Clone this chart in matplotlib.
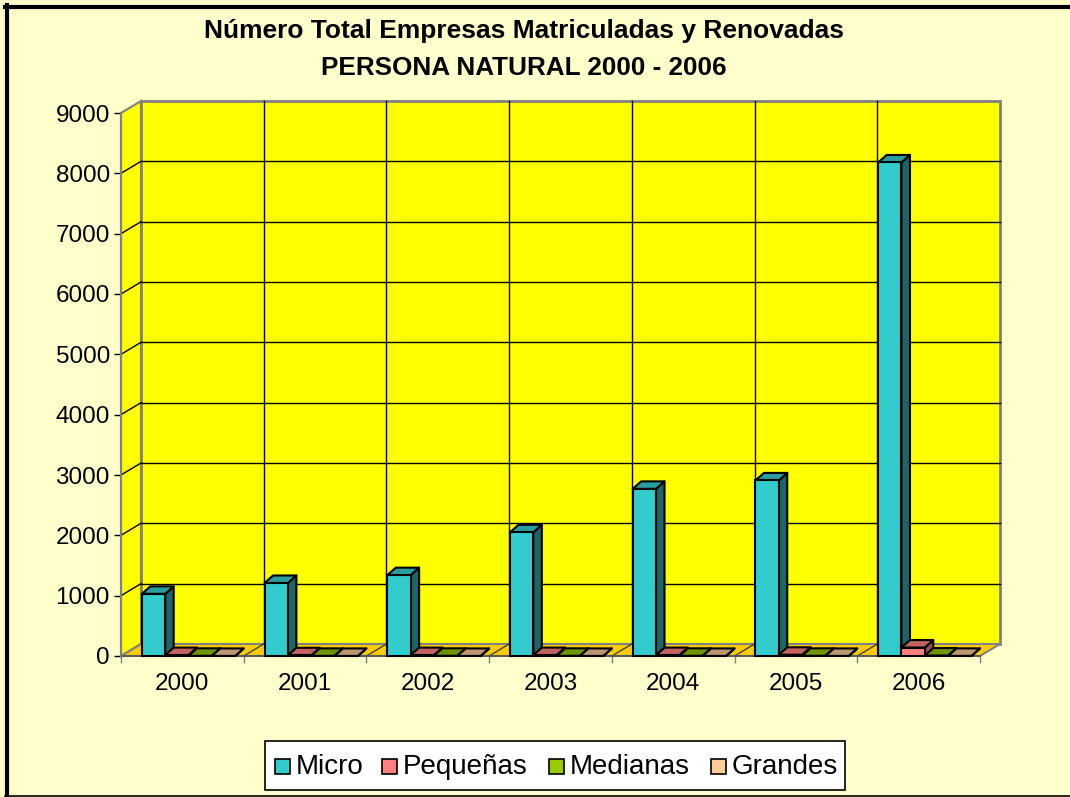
import matplotlib
matplotlib.use('Agg')
import matplotlib.pyplot as plt
from matplotlib.patches import Polygon, Rectangle
from matplotlib.lines import Line2D
import numpy as np

plt.rcParams['font.family'] = ['Liberation Sans', 'DejaVu Sans']

# ---------------- data ----------------
years = ['2000', '2001', '2002', '2003', '2004', '2005', '2006']
series_names = ['Micro', 'Pequeñas', 'Medianas', 'Grandes']
micro = [1030, 1210, 1340, 2050, 2770, 2910, 8180]
pequenas = [15, 12, 15, 15, 15, 20, 140]
medianas = [3, 2, 3, 3, 3, 3, 8]
grandes = [1, 1, 1, 1, 1, 1, 2]
yticks = [0, 1000, 2000, 3000, 4000, 5000, 6000, 7000, 8000, 9000]
title_lines = ['Número Total Empresas Matriculadas y Renovadas',
               'PERSONA NATURAL 2000 - 2006']

# ---------------- style ----------------
front_cols = ['#33CCCC', '#FF8080', '#99CC00', '#FFCC99']
top_cols = ['#2A9E9E', '#C46262', '#6E9200', '#BC9670']
side_cols = ['#1D6666', '#9A4C4C', '#4F6A00', '#8C7054']
W, H = 1070, 797
fig = plt.figure(figsize=(W / 100, H / 100), dpi=100)
fig.patch.set_facecolor('#FFFFCC')

x0p, x1p, y0p, y1p = 121, 980, 656, 113
ax = fig.add_axes([x0p / W, 1 - y0p / H, (x1p - x0p) / W, (y0p - y1p) / H])
ncat = len(years)
ymax = yticks[-1]
ax.set_xlim(0, ncat)
ax.set_ylim(0, ymax)
ax.set_facecolor('none')
for s in ax.spines.values():
    s.set_visible(False)

px_x = ncat / (x1p - x0p)      # data units per pixel (x)
px_y = ymax / (y0p - y1p)      # data units per pixel (y)
wdx, wdy = 20 * px_x, 12 * px_y   # wall depth
bdx, bdy = 8.5 * px_x, 7.5 * px_y  # bar depth

wall_ec = '#808080'
# side wall
ax.add_patch(Polygon([(0, 0), (0, ymax), (wdx, ymax + wdy), (wdx, wdy)],
                     closed=True, fc='#FFFF00', ec=wall_ec, lw=1.5, zorder=1, clip_on=False))
# back wall
ax.add_patch(Rectangle((wdx, wdy), ncat, ymax, fc='#FFFF00', ec=wall_ec, lw=2,
                       zorder=1, clip_on=False))
# floor
ax.add_patch(Polygon([(0, 0), (ncat, 0), (ncat + wdx, wdy), (wdx, wdy)],
                     closed=True, fc='#FFCC00', ec=wall_ec, lw=1.5, zorder=1, clip_on=False))
# grid lines
for v in yticks[1:-1]:
    ax.add_line(Line2D([wdx, ncat + wdx], [v + wdy, v + wdy], color='black', lw=1,
                       zorder=1.5, clip_on=False))
    ax.add_line(Line2D([0, wdx], [v, v + wdy], color='black', lw=1, zorder=1.5, clip_on=False))
for i in range(1, ncat):
    ax.add_line(Line2D([i + wdx, i + wdx], [wdy, ymax + wdy], color='black', lw=1,
                       zorder=1.5, clip_on=False))
    ax.add_line(Line2D([i, i + wdx], [0, wdy], color='#444444', lw=1, zorder=1.5, clip_on=False))
ax.add_line(Line2D([0, ncat], [0, 0], color='#555555', lw=1.2, zorder=1.6, clip_on=False))
ax.add_line(Line2D([0, 0], [0, ymax], color=wall_ec, lw=1.5, zorder=1.6, clip_on=False))

# bars
data = [micro, pequenas, medianas, grandes]
bw = 0.19
start = 0.17
k = 0
for i in range(ncat):
    for j, vals in enumerate(data):
        v = vals[i]
        xl = i + start + j * bw
        z = 3 + k * 0.01
        k += 1
        ax.add_patch(Polygon([(xl + bw, 0), (xl + bw, v), (xl + bw + bdx, v + bdy), (xl + bw + bdx, bdy)],
                             closed=True, fc=side_cols[j], ec='black', lw=1.5, zorder=z,
                             joinstyle='round', clip_on=False))
        ax.add_patch(Polygon([(xl, v), (xl + bw, v), (xl + bw + bdx, v + bdy), (xl + bdx, v + bdy)],
                             closed=True, fc=top_cols[j], ec='black', lw=1.5, zorder=z,
                             joinstyle='round', clip_on=False))
        ax.bar([xl], [v], width=bw, align='edge', color=front_cols[j], edgecolor='black',
               linewidth=1.5, zorder=z + 0.001, clip_on=False)

# axes ticks
ax.set_yticks(yticks)
ax.set_yticklabels([str(t) for t in yticks], fontsize=17.5)
ax.tick_params(axis='y', length=5, width=1, color='black', pad=3)
ax.set_xticks(np.arange(ncat + 1))
ax.set_xticklabels([])
ax.tick_params(axis='x', which='major', length=5, width=1, color='#808080')
ax.set_xticks(np.arange(ncat) + 0.5, minor=True)
ax.set_xticklabels(years, minor=True, fontsize=17.5)
ax.tick_params(axis='x', which='minor', length=0, pad=12)

# title
fig.text(524 / W, 1 - 31 / H, title_lines[0], ha='center', va='center',
         fontsize=19, fontweight='bold')
fig.text(524 / W, 1 - 68 / H, title_lines[1], ha='center', va='center',
         fontsize=18.8, fontweight='bold')

# legend (drawn as a box with swatches and labels, baseline-aligned)
fig.add_artist(Rectangle((265 / W, 1 - 790 / H), 580 / W, 49 / H, transform=fig.transFigure,
                         fc='white', ec='black', lw=1.2))
leg_x = [275, 382, 549, 711]
sq = 15
for j, name in enumerate(series_names):
    fig.add_artist(Rectangle((leg_x[j] / W, 1 - (766 + sq / 2) / H), sq / W, sq / H,
                             transform=fig.transFigure, fc=front_cols[j], ec='black', lw=1.2))
    fig.text((leg_x[j] + sq + 6) / W, 1 - 774 / H, name, ha='left', va='baseline',
             fontsize=20)

# outer border
fig.add_artist(Line2D([7 / W, 7 / W], [0, 1 - 5 / H], color='black', lw=3, transform=fig.transFigure))
fig.add_artist(Line2D([5 / W, 1], [1 - 7 / H, 1 - 7 / H], color='black', lw=3, transform=fig.transFigure))
fig.add_artist(Line2D([5 / W, 1], [1 - 796 / H, 1 - 796 / H], color='black', lw=1.2, transform=fig.transFigure))

fig.savefig('out.png', dpi=100, facecolor=fig.get_facecolor())
